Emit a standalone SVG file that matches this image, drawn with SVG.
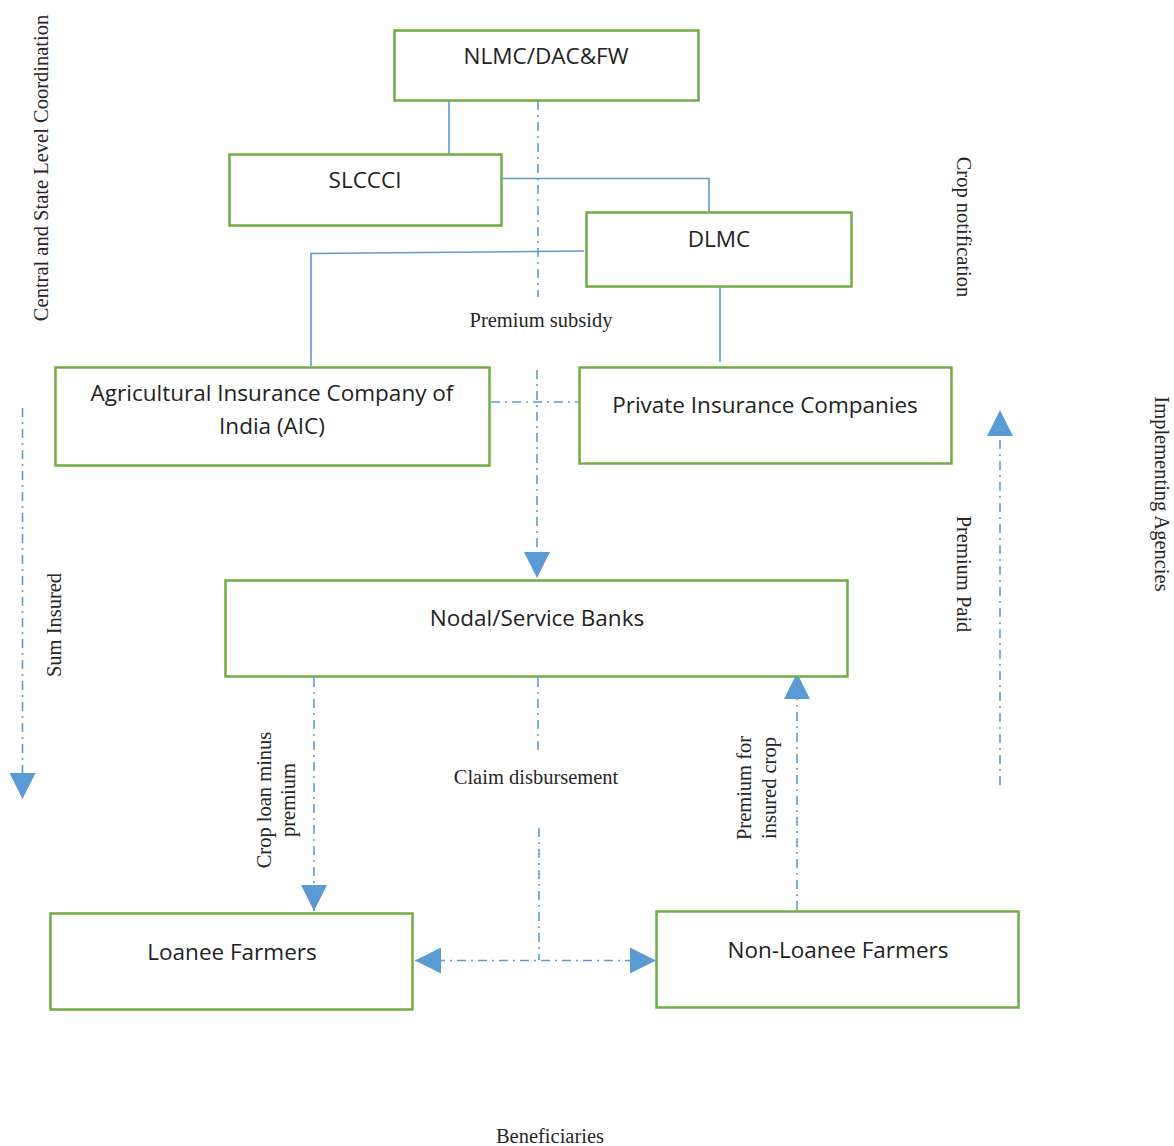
<svg xmlns="http://www.w3.org/2000/svg" width="1174" height="1146" viewBox="0 0 1174 1146">
<style>
.box{fill:#fff;stroke:#70AD47;stroke-width:2.5}
.bt{font-family:"Open Sans","Noto Sans","DejaVu Sans",sans-serif;font-size:22.5px;fill:#222;text-anchor:middle}
.lb{font-family:"Liberation Serif","Times New Roman",serif;font-size:20.5px;fill:#262626;text-anchor:middle}
.solid{fill:none;stroke:#5B9BD5;stroke-width:1.6}
.dd{fill:none;stroke:#5B9BD5;stroke-width:1.6;stroke-dasharray:9 5 2 5}
</style>
<defs>
<marker id="ah" markerUnits="userSpaceOnUse" markerWidth="26" markerHeight="26" refX="24" refY="12" orient="auto-start-reverse" viewBox="0 0 24 24">
<path d="M0,0 L24,12 L0,24 Z" fill="#5B9BD5"/>
</marker>
</defs>
<rect width="1174" height="1146" fill="#fff"/>
<g id="connectors">
<path class="solid" d="M449,101 V154"/>
<path class="solid" d="M501,178.5 H709 V212"/>
<path class="solid" d="M584,251 L311,253.5 V366"/>
<path class="solid" d="M720,287 V362"/>
<path class="dd" d="M538,101 V297"/>
<path class="dd" d="M537,370 V578" marker-end="url(#ah)"/>
<path class="dd" d="M491,402 H579"/>
<path class="dd" d="M538,678 V750"/>
<path class="dd" d="M539,828 V960"/>
<path class="dd" d="M415,960.5 H656" marker-start="url(#ah)" marker-end="url(#ah)"/>
<path class="dd" d="M314,678 V911" marker-end="url(#ah)"/>
<path class="dd" d="M797,910 V673" marker-end="url(#ah)"/>
<path class="dd" d="M22.5,408 V799" marker-end="url(#ah)"/>
<path class="dd" d="M1000,785 V410" marker-end="url(#ah)"/>
</g>
<g id="nlmc"><rect class="box" x="394.5" y="30.5" width="304" height="70"/><text class="bt" x="546" y="64">NLMC/DAC&amp;FW</text></g>
<g id="slccci"><rect class="box" x="229.5" y="154.5" width="272" height="71"/><text class="bt" x="365" y="188">SLCCCI</text></g>
<g id="dlmc"><rect class="box" x="586.5" y="212.5" width="265" height="74"/><text class="bt" x="719" y="247">DLMC</text></g>
<g id="aic"><rect class="box" x="55.5" y="367.5" width="434" height="98"/><text class="bt" x="272" y="401">Agricultural Insurance Company of</text><text class="bt" x="272" y="434">India (AIC)</text></g>
<g id="private"><rect class="box" x="579.5" y="367.5" width="372" height="96"/><text class="bt" x="765" y="413">Private Insurance Companies</text></g>
<g id="nodal"><rect class="box" x="225.5" y="580.5" width="622" height="96"/><text class="bt" x="537" y="626">Nodal/Service Banks</text></g>
<g id="loanee"><rect class="box" x="50.5" y="913.5" width="362" height="96"/><text class="bt" x="232" y="960">Loanee Farmers</text></g>
<g id="nonloanee"><rect class="box" x="656.5" y="911.5" width="362" height="96"/><text class="bt" x="838" y="958">Non-Loanee Farmers</text></g>
<g id="labels">
<text class="lb" x="541" y="327">Premium subsidy</text>
<text class="lb" x="536" y="784">Claim disbursement</text>
<text class="lb" x="550" y="1143">Beneficiaries</text>
<text class="lb" transform="translate(48,168) rotate(-90)">Central and State Level Coordination</text>
<text class="lb" transform="translate(61,625) rotate(-90)">Sum Insured</text>
<text class="lb" transform="translate(271,800) rotate(-90)">Crop loan minus</text>
<text class="lb" transform="translate(295,800) rotate(-90)">premium</text>
<text class="lb" transform="translate(751,788) rotate(-90)">Premium for</text>
<text class="lb" transform="translate(776,788) rotate(-90)">insured crop</text>
<text class="lb" transform="translate(957,227) rotate(90)">Crop notification</text>
<text class="lb" transform="translate(957,574) rotate(90)">Premium Paid</text>
<text class="lb" transform="translate(1155,494) rotate(90)">Implementing Agencies</text>
</g>
</svg>
